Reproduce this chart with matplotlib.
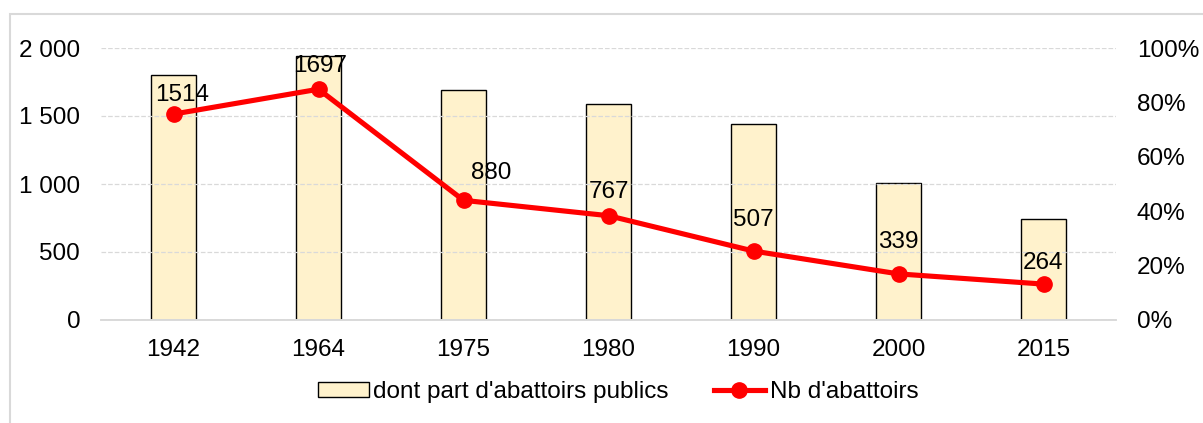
import matplotlib.pyplot as plt
from matplotlib.patches import Rectangle
from matplotlib.ticker import FuncFormatter

plt.rcParams['font.family'] = ['Liberation Sans', 'DejaVu Sans']

# Data
years = ['1942', '1964', '1975', '1980', '1990', '2000', '2015']
nb_abattoirs = [1514, 1697, 880, 767, 507, 339, 264]
part_publics = [0.90, 0.97, 0.845, 0.795, 0.72, 0.505, 0.37]

# label offsets (points) for the line data labels
label_offsets = [(6, 14), (1, 17), (20, 20), (0, 17), (0, 22), (0, 23), (0, 15)]

FS = 17.5

fig = plt.figure(figsize=(12.03, 4.23), dpi=100)
ax = fig.add_axes([101 / 1203, 1 - 320 / 423, 1015 / 1203, 272 / 423])
ax2 = ax.twinx()

x = range(len(years))

# bars on the secondary (percentage) axis
bars = ax2.bar(x, part_publics, width=0.31, color='#FFF2CC', edgecolor='black',
               linewidth=1, label="dont part d'abattoirs publics")
ax2.set_ylim(0, 1)
ax2.set_yticks([0, 0.2, 0.4, 0.6, 0.8, 1.0])
ax2.yaxis.set_major_formatter(FuncFormatter(lambda v, p: f'{v * 100:.0f}%'))

# line on primary axis
line, = ax.plot(x, nb_abattoirs, color='#FF0000', linewidth=3.7, marker='o',
                markersize=11, label="Nb d'abattoirs", zorder=5)
for xi, v, off in zip(x, nb_abattoirs, label_offsets):
    ax.annotate(str(v), (xi, v), xytext=off, textcoords='offset points',
                ha='center', va='center', fontsize=FS, zorder=6)

ax.set_ylim(0, 2000)
ax.set_yticks([0, 500, 1000, 1500, 2000])
ax.yaxis.set_major_formatter(FuncFormatter(lambda v, p: f'{int(v):,}'.replace(',', ' ')))
ax.set_xlim(-0.5, len(years) - 0.5)
ax.set_xticks(list(x))
ax.set_xticklabels(years)
ax.grid(axis='y', color='#D9D9D9', linestyle='--', linewidth=0.9)
ax.set_axisbelow(True)

ax.set_zorder(ax2.get_zorder() + 1)
ax.patch.set_visible(False)

for a in (ax, ax2):
    for side in ('top', 'left', 'right'):
        a.spines[side].set_visible(False)
    a.spines['bottom'].set_color('#D9D9D9')
    a.spines['bottom'].set_linewidth(1.2)
    a.tick_params(length=0, labelsize=FS, colors='black')
ax.tick_params(axis='y', pad=15)
ax.tick_params(axis='x', pad=14)
ax2.tick_params(axis='y', pad=15)

fig.legend([bars, line], [bars.get_label(), line.get_label()],
           loc='center', bbox_to_anchor=(618 / 1203, 1 - 392 / 423), ncol=2,
           frameon=False, fontsize=FS, handlelength=2.1, handleheight=0.6,
           handletextpad=0.2, columnspacing=1.85)

# outer chart border
fig.patches.append(Rectangle((10 / 1203, -0.05), 1.1, 1 - 14 / 423 + 0.05,
                             transform=fig.transFigure, fill=False,
                             edgecolor='#D9D9D9', linewidth=1.5))

fig.savefig('out.png', dpi=100)
